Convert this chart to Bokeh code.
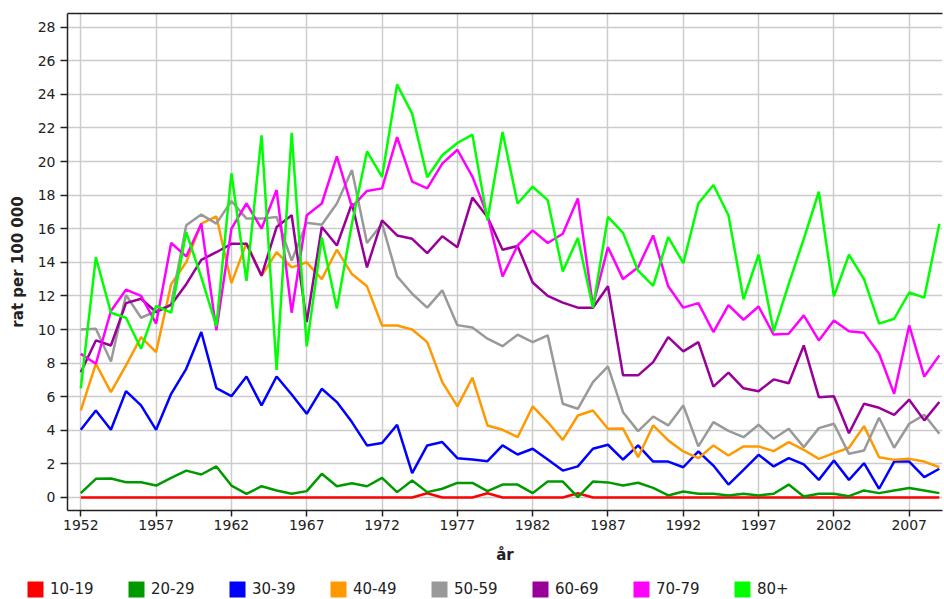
from bokeh.plotting import figure
from bokeh.models import Range1d, FixedTicker, LinearAxis, Legend, LegendItem
from bokeh.embed import file_html
from bokeh.resources import INLINE

years = list(range(1952, 2010))

series_names = ["10-19", "20-29", "30-39", "40-49", "50-59", "60-69", "70-79", "80+"]
series_colors = ["#FF0000", "#009900", "#0000FF", "#FF9900", "#999999", "#990099", "#FF00FF", "#00FF00"]

age_10_19 = [0, 0, 0, 0, 0, 0, 0, 0, 0, 0,
             0, 0, 0, 0, 0, 0, 0, 0, 0, 0,
             0, 0, 0, 0.25, 0, 0, 0, 0.25, 0, 0,
             0, 0, 0, 0.25, 0, 0, 0, 0, 0, 0,
             0, 0, 0, 0, 0, 0, 0, 0, 0, 0,
             0, 0, 0, 0, 0, 0, 0, 0]

age_20_29 = [0.26, 1.11, 1.13, 0.91, 0.91, 0.71, 1.17, 1.6, 1.37, 1.85,
             0.71, 0.22, 0.67, 0.42, 0.22, 0.38, 1.41, 0.67, 0.85, 0.67,
             1.17, 0.32, 1.01, 0.32, 0.52, 0.87, 0.87, 0.38, 0.77, 0.77,
             0.26, 0.95, 0.95, 0.02, 0.95, 0.9, 0.71, 0.88, 0.57, 0.12,
             0.36, 0.22, 0.22, 0.12, 0.22, 0.12, 0.22, 0.77, 0.06, 0.22,
             0.22, 0.08, 0.42, 0.26, 0.42, 0.57, 0.42, 0.26]

age_30_39 = [4.03, 5.18, 4.03, 6.33, 5.48, 4.03, 6.17, 7.66, 9.85, 6.51,
             6.03, 7.2, 5.48, 7.2, 6.13, 4.98, 6.47, 5.68, 4.49, 3.1,
             3.24, 4.33, 1.45, 3.1, 3.3, 2.34, 2.26, 2.16, 3.1, 2.56,
             2.9, 2.26, 1.6, 1.85, 2.9, 3.14, 2.26, 3.1, 2.14, 2.14,
             1.8, 2.74, 1.9, 0.77, 1.65, 2.54, 1.85, 2.34, 1.97, 1.05,
             2.2, 1.05, 2.04, 0.52, 2.14, 2.14, 1.21, 1.71]

age_40_49 = [5.18, 7.96, 6.27, 7.86, 9.55, 8.66, 12.7, 14.0, 16.3, 16.73,
             12.76, 15.15, 13.2, 14.6, 13.7, 14.0, 13.0, 14.75, 13.3, 12.57,
             10.24, 10.24, 10.0, 9.25, 6.87, 5.42, 7.13, 4.29, 4.03, 3.59,
             5.42, 4.49, 3.43, 4.88, 5.18, 4.09, 4.1, 2.4, 4.29, 3.4,
             2.74, 2.34, 3.1, 2.5, 3.04, 3.04, 2.76, 3.3, 2.84, 2.3,
             2.64, 2.96, 4.25, 2.4, 2.24, 2.3, 2.14, 1.8]

age_50_59 = [10.0, 10.05, 8.1, 12.05, 10.7, 11.1, 11.5, 16.2, 16.84, 16.3,
             17.65, 16.6, 16.6, 16.7, 14.1, 16.36, 16.24, 17.5, 19.5, 15.15,
             16.3, 13.16, 12.13, 11.3, 12.33, 10.26, 10.12, 9.45, 9.01, 9.69,
             9.25, 9.65, 5.58, 5.28, 6.87, 7.8, 5.08, 3.95, 4.82, 4.29,
             5.48, 3.04, 4.49, 3.97, 3.59, 4.33, 3.5, 4.09, 3.0, 4.13,
             4.39, 2.6, 2.8, 4.75, 2.96, 4.39, 4.92, 3.79]

age_60_69 = [7.46, 9.35, 9.05, 11.57, 11.83, 11.04, 11.47, 12.7, 14.15, 14.6,
             15.1, 15.1, 13.2, 16.1, 16.8, 10.44, 16.1, 15.0, 17.5, 13.7,
             16.5, 15.6, 15.4, 14.55, 15.55, 14.9, 17.85, 16.7, 14.75, 14.97,
             12.8, 12.0, 11.6, 11.3, 11.3, 12.57, 7.27, 7.27, 8.06, 9.55,
             8.7, 9.25, 6.6, 7.43, 6.5, 6.33, 7.03, 6.8, 9.05, 5.97,
             6.03, 3.83, 5.58, 5.34, 4.92, 5.82, 4.59, 5.68]

age_70_79 = [8.55, 7.96, 11.1, 12.37, 12.0, 10.35, 15.15, 14.35, 16.3, 9.95,
             16.0, 17.5, 16.0, 18.3, 11.0, 16.8, 17.5, 20.3, 17.3, 18.25,
             18.4, 21.45, 18.8, 18.4, 19.87, 20.7, 19.1, 16.8, 13.16, 15.0,
             15.9, 15.15, 15.7, 17.8, 11.4, 14.9, 13.0, 13.7, 15.6, 12.57,
             11.3, 11.57, 9.85, 11.45, 10.58, 11.37, 9.7, 9.75, 10.84, 9.35,
             10.54, 9.9, 9.8, 8.56, 6.17, 10.24, 7.2, 8.46]

age_80_plus = [6.5, 14.3, 11.0, 10.7, 8.85, 11.4, 11.0, 15.8, 13.1, 10.2,
               19.3, 12.9, 21.56, 7.6, 21.7, 9.0, 15.47, 11.25, 16.3, 20.6,
               19.08, 24.58, 22.85, 19.06, 20.37, 21.1, 21.6, 16.5, 21.76, 17.5,
               18.5, 17.7, 13.45, 15.45, 11.3, 16.7, 15.75, 13.5, 12.6, 15.5,
               13.95, 17.5, 18.6, 16.8, 11.8, 14.45, 9.9, 12.7, 15.4, 18.2,
               11.97, 14.45, 13.0, 10.35, 10.64, 12.2, 11.9, 16.3]

x_ticks = list(range(1952, 2008, 5))
y_ticks = list(range(0, 29, 2))
x_label = "år"
y_label = "rat per 100 000"

all_series = [age_10_19, age_20_29, age_30_39, age_40_49, age_50_59, age_60_69, age_70_79, age_80_plus]

FONT = "DejaVu Sans"

p = figure(width=944, height=575, output_backend="svg", toolbar_location=None, title=None,
           x_range=Range1d(1951.117, 2009.21), y_range=Range1d(-0.774, 28.81),
           min_border_left=67, min_border_right=2, min_border_top=13, min_border_bottom=65)

p.outline_line_color = None
p.background_fill_color = "white"
p.border_fill_color = "white"

for ax in (p.xaxis, p.yaxis):
    ax.minor_tick_line_color = None
    ax.major_tick_in = 0
    ax.axis_line_color = "#222222"
    ax.axis_line_width = 1.5
    ax.major_tick_line_color = "#222222"
    ax.major_tick_line_width = 1.5
    ax.major_label_text_font = FONT
    ax.major_label_text_font_size = "14px"
    ax.major_label_text_color = "#222222"
    ax.axis_label_text_font = FONT
    ax.axis_label_text_font_style = "bold"
    ax.axis_label_text_font_size = "15px"
    ax.axis_label_text_color = "#222222"

p.xaxis.ticker = FixedTicker(ticks=x_ticks)
p.yaxis.ticker = FixedTicker(ticks=y_ticks)
p.xaxis.major_tick_out = 6
p.yaxis.major_tick_out = 7
p.xaxis.major_label_standoff = 3
p.yaxis.major_label_standoff = 5
p.xaxis.axis_label = x_label
p.yaxis.axis_label = y_label
p.xaxis.axis_label_standoff = 13
p.yaxis.axis_label_standoff = 8

top_axis = LinearAxis(ticker=FixedTicker(ticks=[]), major_tick_line_color=None,
                      minor_tick_line_color=None, major_label_text_font_size="0px",
                      axis_line_color="#222222", axis_line_width=1.5)
p.add_layout(top_axis, "above")

p.xgrid.grid_line_color = "#cccccc"
p.ygrid.grid_line_color = "#cccccc"
p.xgrid.grid_line_width = 1.5
p.ygrid.grid_line_width = 1.5

for col, vals in zip(series_colors, all_series):
    p.line(years, vals, line_color=col, line_width=2.5)

# legend strip below the chart (separate root so its frame spans the full width)
lf = figure(width=944, height=24, output_backend="svg", toolbar_location=None, title=None,
            x_range=Range1d(0, 1), y_range=Range1d(0, 1), x_axis_type=None, y_axis_type=None,
            min_border=0, min_border_left=0, min_border_right=0, min_border_top=0, min_border_bottom=0)
lf.outline_line_color = None
lf.background_fill_color = "white"
lf.border_fill_color = "white"

items = []
for name, col in zip(series_names, series_colors):
    # swatch renderer kept outside the visible range; only its legend glyph shows
    sw = lf.quad(left=[-3], right=[-2], top=[-2], bottom=[-3], fill_color=col, line_color=None)
    items.append(LegendItem(label=name, renderers=[sw]))

legend = Legend(items=items, orientation="horizontal", location=(25, 0),
                glyph_width=20, glyph_height=20, label_standoff=5, label_width=76,
                spacing=0, padding=0, margin=0, border_line_color=None,
                background_fill_alpha=0, label_text_font=FONT,
                label_text_font_size="15px", label_text_color="#222222")
lf.add_layout(legend)

open("out.html", "w").write(file_html([p, lf], INLINE))
